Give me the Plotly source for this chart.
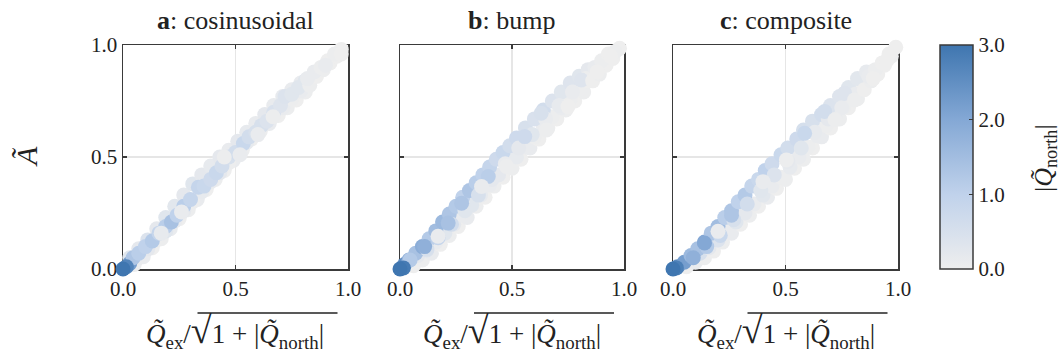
import plotly.graph_objects as go

# ---------------- labels ----------------
panel_titles = ["<b>a</b>: cosinusoidal", "<b>b</b>: bump", "<b>c</b>: composite"]
tick_vals = [0.0, 0.5, 1.0]
tick_text = ["0.0", "0.5", "1.0"]
cbar_vals = [0, 1, 2, 3]
cbar_text = ["0.0", "1.0", "2.0", "3.0"]
x_label = ("<i>Q\u0303</i><sub>ex</sub>/<span style='font-size:38px'>\u221a</span>"
           "1 + |<i>Q\u0303</i><sub>north</sub>|")
y_label = "<i>A\u0303</i>"
c_label = "|<i>Q\u0303</i><sub>north</sub>|"

# ---------------- panel a: cosinusoidal ----------------
cos_x = [0.05, 0.09, 0.13, 0.17, 0.21, 0.25, 0.29, 0.33, 0.37, 0.41, 0.45, 0.49, 0.53, 0.57, 0.61, 0.65, 0.69, 0.73, 0.77, 0.81,
         0.07, 0.11, 0.15, 0.19, 0.23, 0.27, 0.31, 0.35, 0.39, 0.43, 0.47, 0.51, 0.55, 0.59, 0.63, 0.67, 0.71, 0.75, 0.79, 0.83,
         0.03, 0.07, 0.11, 0.15, 0.19, 0.23, 0.27, 0.31, 0.35, 0.39, 0.43, 0.47, 0.51, 0.55, 0.59, 0.63, 0.67, 0.71, 0.75, 0.79,
         0.03, 0.045, 0.07, 0.10, 0.13, 0.16, 0.19, 0.215, 0.24, 0.27, 0.30, 0.335, 0.36, 0.39, 0.415, 0.44, 0.47, 0.50,
         0.535, 0.56, 0.59, 0.615, 0.64, 0.67, 0.70, 0.72, 0.75, 0.78, 0.81,
         0.17, 0.26, 0.45, 0.52, 0.667, 0.60,
         0.83, 0.86, 0.89, 0.92, 0.95, 0.97, 0.85, 0.88, 0.91, 0.94, 0.97, 0.82, 0.90,
         0.015, 0.0]
cos_y = [0.02, 0.055, 0.095, 0.135, 0.18, 0.225, 0.265, 0.31, 0.355, 0.40, 0.44, 0.485, 0.53, 0.58, 0.615, 0.65, 0.685, 0.72, 0.755, 0.79,
         0.05, 0.09, 0.13, 0.17, 0.215, 0.26, 0.30, 0.345, 0.39, 0.43, 0.475, 0.52, 0.565, 0.61, 0.65, 0.685, 0.72, 0.76, 0.795, 0.83,
         0.05, 0.09, 0.13, 0.18, 0.23, 0.28, 0.33, 0.38, 0.42, 0.46, 0.50, 0.53, 0.57, 0.61, 0.65, 0.69, 0.73, 0.77, 0.80, 0.83,
         0.025, 0.05, 0.07, 0.10, 0.125, 0.16, 0.19, 0.21, 0.24, 0.28, 0.31, 0.365, 0.37, 0.40, 0.43, 0.46, 0.50, 0.52,
         0.56, 0.59, 0.61, 0.64, 0.66, 0.70, 0.73, 0.77, 0.78, 0.81, 0.84,
         0.16, 0.255, 0.50, 0.51, 0.68, 0.60,
         0.82, 0.86, 0.89, 0.92, 0.95, 0.98, 0.88, 0.90, 0.93, 0.96, 0.96, 0.85, 0.91,
         0.01, 0.0]
cos_q = [0.05, 0.1, 0.0, 0.05, 0.1, 0.0, 0.05, 0.1, 0.0, 0.05, 0.0, 0.1, 0.05, 0.0, 0.05, 0.1, 0.0, 0.05, 0.0, 0.05,
         0.1, 0.2, 0.05, 0.3, 0.1, 0.2, 0.05, 0.15, 0.1, 0.2, 0.05, 0.1, 0.15, 0.05, 0.1, 0.05, 0.1, 0.05, 0.1, 0.05,
         0.3, 0.2, 0.4, 0.2, 0.3, 0.25, 0.2, 0.3, 0.2, 0.15, 0.2, 0.1, 0.2, 0.15, 0.1, 0.2, 0.1, 0.15, 0.1, 0.1,
         2.2, 1.3, 1.1, 1.0, 1.2, 0.9, 1.1, 1.4, 1.0, 1.1, 0.9, 0.9, 0.8, 0.7, 0.8, 0.6, 0.5, 0.6,
         0.8, 0.6, 0.5, 0.5, 0.4, 0.45, 0.35, 0.4, 0.3, 0.3, 0.3,
         0.15, 0.1, 0.05, 0.1, 0.05, 0.1,
         0.05, 0.0, 0.05, 0.0, 0.0, 0.0, 0.1, 0.05, 0.0, 0.05, 0.0, 0.1, 0.1,
         2.7, 3.0]

# ---------------- panel b: bump ----------------
bump_x = [0.06, 0.10, 0.14, 0.18, 0.22, 0.26, 0.30, 0.34, 0.38, 0.42, 0.46, 0.50, 0.54, 0.58, 0.62, 0.66, 0.70, 0.74, 0.78, 0.82,
          0.08, 0.12, 0.16, 0.20, 0.24, 0.28, 0.32, 0.36, 0.40, 0.44, 0.48, 0.52, 0.56, 0.60, 0.64, 0.68, 0.72, 0.76, 0.80, 0.84,
          0.02, 0.04, 0.07, 0.10, 0.13, 0.16, 0.19, 0.22, 0.25, 0.28, 0.31, 0.34, 0.37, 0.40, 0.43, 0.46, 0.49, 0.52, 0.56, 0.60,
          0.64, 0.68, 0.72, 0.76, 0.80, 0.84,
          0.12, 0.17, 0.23, 0.29, 0.35, 0.41, 0.47, 0.53, 0.59, 0.65, 0.71, 0.77, 0.83,
          0.11, 0.045, 0.215, 0.275, 0.394, 0.557, 0.63, 0.81, 0.17, 0.364, 0.475, 0.654, 0.75,
          0.86, 0.89, 0.92, 0.95, 0.98, 0.87, 0.90, 0.93, 0.96, 0.88, 0.94,
          0.015, 0.0]
bump_y = [0.015, 0.04, 0.07, 0.11, 0.15, 0.19, 0.23, 0.28, 0.32, 0.37, 0.41, 0.45, 0.49, 0.54, 0.58, 0.63, 0.67, 0.71, 0.75, 0.79,
          0.06, 0.085, 0.12, 0.16, 0.20, 0.24, 0.285, 0.33, 0.375, 0.42, 0.46, 0.50, 0.545, 0.59, 0.635, 0.68, 0.72, 0.76, 0.80, 0.84,
          0.02, 0.04, 0.07, 0.10, 0.135, 0.17, 0.21, 0.245, 0.28, 0.32, 0.35, 0.385, 0.42, 0.455, 0.49, 0.52, 0.55, 0.585, 0.63, 0.67,
          0.71, 0.75, 0.79, 0.83, 0.86, 0.89,
          0.09, 0.14, 0.20, 0.26, 0.33, 0.40, 0.47, 0.54, 0.60, 0.67, 0.73, 0.79, 0.85,
          0.10, 0.04, 0.205, 0.294, 0.413, 0.591, 0.695, 0.844, 0.146, 0.368, 0.458, 0.621, 0.725,
          0.84, 0.87, 0.91, 0.94, 0.985, 0.90, 0.93, 0.96, 0.97, 0.88, 0.95,
          0.005, 0.0]
bump_q = [0.0, 0.05, 0.1, 0.0, 0.05, 0.0, 0.1, 0.05, 0.0, 0.05, 0.0, 0.05, 0.0, 0.1, 0.0, 0.05, 0.0, 0.05, 0.0, 0.05,
          0.2, 0.4, 0.1, 0.3, 0.2, 0.1, 0.3, 0.15, 0.1, 0.2, 0.05, 0.15, 0.1, 0.05, 0.1, 0.05, 0.1, 0.05, 0.05, 0.0,
          2.6, 1.8, 1.4, 1.9, 1.2, 1.5, 1.6, 1.3, 1.2, 1.0, 1.3, 1.1, 1.0, 0.9, 0.7, 0.8, 0.6, 0.7, 0.5, 0.45,
          0.6, 0.4, 0.3, 0.35, 0.3, 0.2,
          0.5, 0.9, 0.6, 0.3, 0.5, 0.2, 0.1, 0.2, 0.3, 0.1, 0.15, 0.1, 0.05,
          1.8, 1.2, 1.4, 1.3, 1.1, 0.7, 0.5, 0.35, 0.1, 0.1, 0.05, 0.05, 0.0,
          0.0, 0.05, 0.0, 0.0, 0.0, 0.1, 0.05, 0.0, 0.05, 0.0, 0.0,
          2.9, 3.0]

# ---------------- panel c: composite ----------------
comp_x = [0.06, 0.10, 0.14, 0.18, 0.22, 0.26, 0.30, 0.34, 0.38, 0.42, 0.46, 0.50, 0.54, 0.58, 0.62, 0.66, 0.70, 0.74, 0.78, 0.82,
          0.08, 0.12, 0.16, 0.20, 0.24, 0.28, 0.32, 0.36, 0.40, 0.44, 0.48, 0.52, 0.56, 0.60, 0.64, 0.68, 0.72, 0.76, 0.80, 0.84,
          0.02, 0.05, 0.08, 0.11, 0.14, 0.17, 0.20, 0.23, 0.26, 0.29, 0.32, 0.35, 0.38, 0.41, 0.44, 0.48, 0.51, 0.55, 0.58, 0.62,
          0.66, 0.70, 0.74, 0.78, 0.82, 0.86,
          0.09, 0.15, 0.21, 0.27, 0.33, 0.39, 0.45, 0.51, 0.57, 0.63, 0.69, 0.75, 0.81,
          0.14, 0.26, 0.585, 0.674, 0.763, 0.20, 0.40, 0.504, 0.72, 0.807,
          0.85, 0.88, 0.91, 0.94, 0.97, 0.99, 0.87, 0.90, 0.93, 0.96, 0.89, 0.95,
          0.015, 0.0]
comp_y = [0.01, 0.03, 0.05, 0.08, 0.12, 0.16, 0.20, 0.24, 0.28, 0.32, 0.36, 0.40, 0.45, 0.49, 0.54, 0.59, 0.63, 0.67, 0.72, 0.76,
          0.05, 0.07, 0.095, 0.13, 0.17, 0.21, 0.25, 0.29, 0.33, 0.37, 0.41, 0.455, 0.50, 0.545, 0.595, 0.64, 0.68, 0.725, 0.77, 0.81,
          0.01, 0.03, 0.06, 0.09, 0.12, 0.16, 0.19, 0.23, 0.26, 0.30, 0.33, 0.37, 0.40, 0.44, 0.47, 0.51, 0.54, 0.58, 0.62, 0.66,
          0.69, 0.73, 0.77, 0.81, 0.85, 0.88,
          0.05, 0.10, 0.15, 0.22, 0.29, 0.35, 0.42, 0.48, 0.54, 0.61, 0.67, 0.72, 0.78,
          0.116, 0.24, 0.606, 0.703, 0.785, 0.168, 0.39, 0.487, 0.666, 0.755,
          0.80, 0.84, 0.87, 0.91, 0.95, 0.99, 0.86, 0.89, 0.92, 0.96, 0.85, 0.93,
          0.005, 0.0]
comp_q = [0.0, 0.1, 0.05, 0.0, 0.05, 0.1, 0.0, 0.05, 0.0, 0.1, 0.0, 0.05, 0.0, 0.05, 0.0, 0.1, 0.0, 0.05, 0.0, 0.05,
          0.3, 0.5, 0.2, 0.4, 0.1, 0.3, 0.2, 0.1, 0.25, 0.1, 0.05, 0.15, 0.1, 0.05, 0.1, 0.05, 0.1, 0.05, 0.05, 0.0,
          2.5, 2.2, 1.6, 1.4, 2.0, 1.3, 1.5, 1.1, 1.3, 1.0, 1.2, 0.9, 0.8, 1.0, 0.7, 0.8, 0.6, 0.7, 0.55, 0.5,
          0.6, 0.4, 0.35, 0.3, 0.25, 0.15,
          1.8, 1.2, 0.8, 0.5, 0.6, 0.3, 0.4, 0.2, 0.3, 0.15, 0.2, 0.1, 0.1,
          2.0, 1.3, 0.8, 0.6, 0.35, 0.1, 0.1, 0.05, 0.05, 0.05,
          0.0, 0.05, 0.0, 0.0, 0.05, 0.0, 0.1, 0.05, 0.0, 0.0, 0.0, 0.0,
          2.8, 3.0]

panels = [(cos_x, cos_y, cos_q), (bump_x, bump_y, bump_q), (comp_x, comp_y, comp_q)]
for px, py, pq in panels:
    assert len(px) == len(py) == len(pq)

# ---------------- figure ----------------
W, H = 1063, 361
FONT = "Liberation Serif"
INK = "#222222"
FRAME = "#3a3a3a"
colorscale = [[0.0, "#eeeeee"], [0.333, "#c0d2eb"], [0.667, "#84a8d5"], [1.0, "#3f76b0"]]

x_dom = [(123 / W, 348 / W), (400 / W, 624 / W), (673 / W, 898 / W)]
y_dom = ((H - 269) / H, (H - 45) / H)

fig = go.Figure()
for i, (px, py, pq) in enumerate(panels):
    fig.add_trace(go.Scatter(
        x=px, y=py, mode="markers",
        xaxis="x" if i == 0 else f"x{i+1}",
        yaxis="y" if i == 0 else f"y{i+1}",
        cliponaxis=False,
        marker=dict(size=15, color=pq, coloraxis="coloraxis", line=dict(width=0), opacity=1),
        showlegend=False, hoverinfo="skip",
    ))

axis_common = dict(
    range=[0, 1], tickvals=tick_vals, ticktext=tick_text,
    showgrid=True, gridcolor="#e6e6e6", gridwidth=1.5, zeroline=False,
    showline=True, linecolor=FRAME, linewidth=1.5, mirror="ticks",
    ticks="inside", ticklen=4, tickwidth=1.5, tickcolor=FRAME,
    tickfont=dict(family=FONT, size=21, color=INK),
    layer="below traces", fixedrange=True, automargin=False,
)

layout = dict(
    width=W, height=H,
    margin=dict(l=0, r=0, t=0, b=0, autoexpand=False),
    paper_bgcolor="white", plot_bgcolor="white",
    font=dict(family=FONT, color=INK),
    coloraxis=dict(
        cmin=0, cmax=3, colorscale=colorscale,
        colorbar=dict(
            x=940 / W, xanchor="left", xpad=0,
            y=y_dom[0], yanchor="bottom", ypad=0,
            len=y_dom[1] - y_dom[0], lenmode="fraction",
            thickness=33, thicknessmode="pixels",
            outlinewidth=1.5, outlinecolor=FRAME,
            tickvals=cbar_vals, ticktext=cbar_text,
            ticks="inside", ticklen=4, tickwidth=1.5, tickcolor=FRAME,
            tickfont=dict(family=FONT, size=21, color=INK),
        ),
    ),
)
for i in range(3):
    sx = "" if i == 0 else str(i + 1)
    xa = dict(axis_common, domain=list(x_dom[i]), anchor="y" + sx)
    ya = dict(axis_common, domain=list(y_dom), anchor="x" + sx, showticklabels=(i == 0))
    layout["xaxis" + sx] = xa
    layout["yaxis" + sx] = ya

annotations = []
shapes = []
for i in range(3):
    cx = (x_dom[i][0] + x_dom[i][1]) / 2
    cpx = cx * W
    annotations.append(dict(text=panel_titles[i], x=cx, y=(H - 20) / H, xref="paper", yref="paper",
                            xanchor="center", yanchor="middle", showarrow=False,
                            font=dict(family=FONT, size=26, color=INK)))
    annotations.append(dict(text=x_label, x=cx, y=(H - 331) / H, xref="paper", yref="paper",
                            xanchor="center", yanchor="middle", showarrow=False,
                            font=dict(family=FONT, size=27, color=INK)))
    # overbar of the square root sign
    shapes.append(dict(type="line", xref="paper", yref="paper",
                       x0=(cpx - 38) / W, x1=(cpx + 102) / W,
                       y0=(H - 313) / H, y1=(H - 313) / H,
                       line=dict(color=INK, width=1.5)))
annotations.append(dict(text=y_label, x=27 / W, y=(H - 157) / H, xref="paper", yref="paper",
                        xanchor="center", yanchor="middle", showarrow=False, textangle=-90,
                        font=dict(family=FONT, size=30, color=INK)))
annotations.append(dict(text=c_label, x=1045 / W, y=(H - 158) / H, xref="paper", yref="paper",
                        xanchor="center", yanchor="middle", showarrow=False, textangle=-90,
                        font=dict(family=FONT, size=26, color=INK)))
layout["annotations"] = annotations
layout["shapes"] = shapes

fig.update_layout(**layout)
fig.write_html("out.html",
               config={"displayModeBar": False, "staticPlot": True},
               post_script="document.body.style.margin='0';document.body.style.overflow='hidden';")
